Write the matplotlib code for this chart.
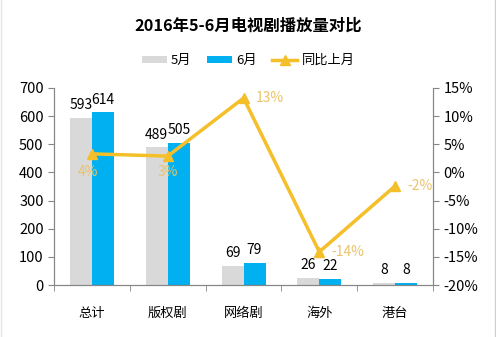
import matplotlib.pyplot as plt
import numpy as np

plt.rcParams['font.family'] = ['Noto Sans CJK SC', 'DejaVu Sans']

# data
categories = ["总计", "版权剧", "网络剧", "海外", "港台"]
may = [593, 489, 69, 26, 8]
june = [614, 505, 79, 22, 8]
yoy = [3.3, 2.9, 13.2, -14.1, -2.4]   # percent, position of line points
yoy_labels = ["4%", "3%", "13%", "-14%", "-2%"]

gray = "#d9d9d9"
blue = "#00b0f0"
yellow = "#f5bf2a"
label_yellow = "#e9c46a"
axis_col = "#868686"

fig = plt.figure(figsize=(4.96, 3.37), dpi=100)
ax = fig.add_axes([0.109, 0.154, 0.764, 0.585])
ax2 = ax.twinx()

x = np.arange(len(categories))
w = 0.29
b1 = ax.bar(x - w / 2, may, w, color=gray, label="5月")
b2 = ax.bar(x + w / 2, june, w, color=blue, label="6月")

for xi, v in zip(x, may):
    ax.text(xi - w / 2, v + 20, str(v), ha="center", va="bottom", fontsize=10)
for xi, v in zip(x, june):
    ax.text(xi + w / 2, v + 20, str(v), ha="center", va="bottom", fontsize=10)

ax.set_xlim(-0.5, len(categories) - 0.5)
ax.set_ylim(0, 700)
ax.set_yticks(range(0, 701, 100))
ax.set_xticks(x)
ax.set_xticklabels(categories, fontsize=9.5)
ax.set_xticks(np.arange(-0.5, len(categories), 1), minor=True)
ax.tick_params(axis="x", which="major", length=0, pad=16)
ax.tick_params(axis="x", which="minor", length=4, color=axis_col, direction="out")
ax.tick_params(axis="y", labelsize=10.5, length=4, color=axis_col)

ln, = ax2.plot(x, yoy, color=yellow, lw=2.5, marker="^", ms=7, label="同比上月")
ax2.set_ylim(-20, 15)
ax2.set_yticks(range(-20, 16, 5))
ax2.set_yticklabels([f"{t}%" for t in range(-20, 16, 5)])
ax2.tick_params(axis="y", labelsize=10.5, length=4, color=axis_col)

# percentage labels
offsets = [(-0.05, -3.3, "center"), (0.0, -2.9, "center"), (0.16, 0, "left"),
           (0.16, 0, "left"), (0.16, 0, "left")]
for xi, v, t, (dx, dy, ha) in zip(x, yoy, yoy_labels, offsets):
    ax2.text(xi + dx, v + dy, t, ha=ha, va="center", fontsize=10, color=label_yellow)

for a in (ax, ax2):
    a.spines["top"].set_visible(False)
    for s in ("left", "right", "bottom"):
        a.spines[s].set_color(axis_col)

fig.text(0.5, 0.925, "2016年5-6月电视剧播放量对比", ha="center", va="center",
         fontsize=11.75, fontweight="bold")
fig.legend(handles=[b1, b2, ln], loc="center", bbox_to_anchor=(0.5, 0.82), ncol=3,
           frameon=False, fontsize=9.5, handlelength=1.9, handleheight=0.5,
           columnspacing=1.2, handletextpad=0.3)

# faint frame at the image edges
fig.add_artist(plt.Line2D([0.997, 0.997], [0, 1], color="#d0d0d0", lw=1,
                          transform=fig.transFigure))
fig.add_artist(plt.Line2D([0.002, 0.002], [0, 1], color="#e6e6e6", lw=1,
                          transform=fig.transFigure))

fig.savefig("out.png", dpi=100)
